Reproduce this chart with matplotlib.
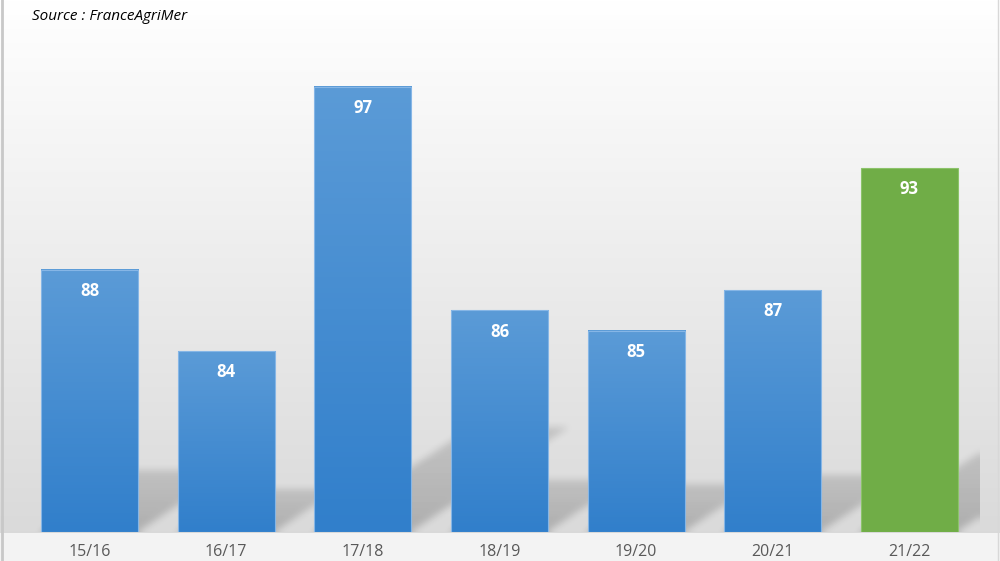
import numpy as np
import matplotlib
matplotlib.use('Agg')
import matplotlib.pyplot as plt
from matplotlib.patches import Rectangle

# donnees
campagnes = ['15/16', '16/17', '17/18', '18/19', '19/20', '20/21', '21/22']
valeurs = [88, 84, 97, 86, 85, 87, 93]
source = 'Source : FranceAgriMer'

base = 75.1
ytop = 101.27
largeur = 0.71

fig = plt.figure(figsize=(10, 5.61), dpi=100)

# fond degrade de la figure
bg = fig.add_axes([0, 0, 1, 1], zorder=0)
H = 561
yy = np.arange(H)
col = np.where(yy < 533, 255 - 37 * yy / 530, 243) / 255.0
img = np.repeat(np.repeat(col[:, None, None], 3, axis=2), 1000, axis=1)
bg.imshow(img, aspect='auto', extent=[0, 1, 0, 1], origin='upper', interpolation='nearest')
bg.plot([0.002, 0.002], [0, 1], color='#c8c8c8', lw=2)
bg.plot([0.998, 0.998], [0, 1], color='#d8d8d8', lw=1)
bg.set_xlim(0, 1)
bg.set_ylim(0, 1)
bg.axis('off')

ax = fig.add_axes([0.0212, 29 / 561, 0.9588, 532 / 561], zorder=1)
ax.patch.set_alpha(0)
xlim = (-0.5, 6.517)

# ombres en perspective (raster flou)
nx, ny = 959, 532
gx = np.linspace(xlim[0], xlim[1], nx)
gy = np.linspace(ytop, base, ny)
X, Y = np.meshgrid(gx, gy)
masque = np.zeros((ny, nx))
for i, v in enumerate(valeurs):
    h = v - base
    dy = 0.235 * h
    dx = 0.0527 * h
    t = (Y - base) / dy
    dedans = (t >= 0) & (t <= 1) & (X >= i - largeur / 2 + t * dx) & (X <= i + largeur / 2 + t * dx)
    masque = np.maximum(masque, dedans * (1 - 0.35 * np.clip(t, 0, 1)))

def flou(a, r):
    for axe in (0, 1):
        c = np.cumsum(np.pad(a, [(r + 1, r) if k == axe else (0, 0) for k in (0, 1)], mode='edge'), axis=axe)
        if axe == 0:
            a = (c[2 * r + 1:] - c[:-2 * r - 1]) / (2 * r + 1)
        else:
            a = (c[:, 2 * r + 1:] - c[:, :-2 * r - 1]) / (2 * r + 1)
    return a

for _ in range(3):
    masque = flou(masque, 3)
masque[masque < 0.01] = 0
ombre = np.zeros((ny, nx, 4))
ombre[..., 3] = masque * 0.2
ax.imshow(ombre, extent=[xlim[0], xlim[1], base, ytop], aspect='auto', zorder=1,
          origin='upper', interpolation='nearest')

# barres
grad = np.linspace(0, 1, 200)[:, None]
haut = np.array([0x5b, 0x9b, 0xd7]) / 255
bas = np.array([0x31, 0x7f, 0xcb]) / 255
degrade = (haut[None, None, :] * (1 - grad[..., None]) + bas[None, None, :] * grad[..., None])
for i, v in enumerate(valeurs):
    x0 = i - largeur / 2
    if i == len(valeurs) - 1:
        ax.add_patch(Rectangle((x0, base), largeur, v - base, facecolor='#70ad47',
                               edgecolor='#8cc36a', lw=0.8, zorder=3))
    else:
        ax.imshow(degrade, extent=[x0, x0 + largeur, base, v], aspect='auto', zorder=3)
        ax.add_patch(Rectangle((x0, base), largeur, v - base, fill=False,
                               edgecolor='#86b6e6', lw=0.8, zorder=4))
    ax.text(i, v - 1.05, str(v), ha='center', va='center', color='white',
            fontsize=12, fontweight='bold', family='Open Sans', zorder=5)

ax.set_xlim(*xlim)
ax.set_ylim(base, ytop)
ax.set_xticks(range(len(campagnes)))
ax.set_xticklabels(campagnes, fontsize=11.5, color='#595959', family='Open Sans')
ax.tick_params(axis='x', length=0, pad=9)
ax.set_yticks([])
for s in ax.spines.values():
    s.set_visible(False)

fig.text(0.032, 1 - 17 / 561, source, fontsize=11, style='italic', family='Open Sans',
         ha='left', va='center', color='black')

fig.savefig('out.png', dpi=100)
